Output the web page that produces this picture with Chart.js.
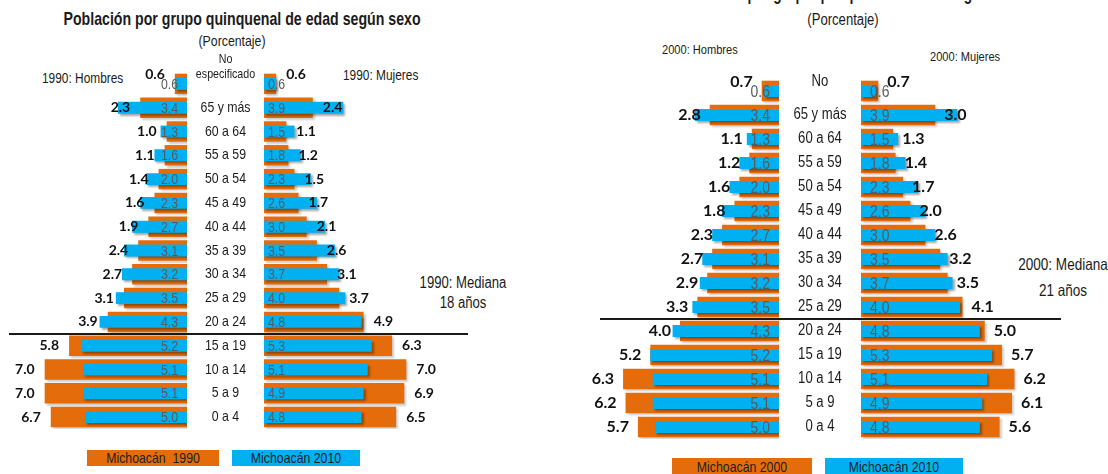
<!DOCTYPE html>
<html>
<head>
<meta charset="utf-8">
<script src="https://cdn.jsdelivr.net/npm/chart.js@4.4.1/dist/chart.umd.min.js"></script>
<style>
  body { margin: 0; width: 1108px; height: 474px; background: #fff; position: relative; overflow: hidden;
         font-family: "Liberation Sans", Arial, sans-serif; color: #1b1b1b; }
  canvas { position: absolute; }
  .t { position: absolute; white-space: pre; line-height: 1; }
  .c { transform: translate(-50%, -50%) scaleX(0.82); }
  .l { transform: translateY(-50%) scaleX(0.82); transform-origin: 0 50%; }
  .key { position: absolute; white-space: pre; color: #1e1e1e; }
  .key span { display: block; text-align: center; font-size: 15px; transform: scaleX(0.82); }
</style>
</head>
<body>

<div class="t" style="left:242px;top:18px;font-size:19px;font-weight:bold;transform:translate(-50%,-50%) scaleX(0.745)">Población por grupo quinquenal de edad según sexo</div>
<div class="t c" style="left:232px;top:40px;font-size:15px">(Porcentaje)</div>
<div class="t l" style="left:42px;top:78px;font-size:14.5px">1990: Hombres</div>
<div class="t l" style="left:343px;top:75px;font-size:14.5px">1990: Mujeres</div>
<div class="t c" style="left:463px;top:283px;font-size:16px">1990: Mediana</div>
<div class="t c" style="left:463px;top:303px;font-size:16px">18 años</div>

<div class="t" style="left:851px;top:-17px;font-size:20px;font-weight:bold;transform:translateX(-50%) scaleX(0.685)">Población por grupo quinquenal de edad según sexo</div>
<div class="t c" style="left:843px;top:20px;font-size:16px">(Porcentaje)</div>
<div class="t l" style="left:662px;top:50px;font-size:13.5px">2000: Hombres</div>
<div class="t l" style="left:930px;top:57px;font-size:13.5px">2000: Mujeres</div>
<div class="t c" style="left:1063px;top:264px;font-size:16.5px">2000: Mediana</div>
<div class="t c" style="left:1063px;top:290px;font-size:16.5px">21 años</div>

<canvas id="h1990" width="260" height="377" style="left:4px;top:52px"></canvas>
<canvas id="m1990" width="204" height="377" style="left:264px;top:52px"></canvas>
<canvas id="h2000" width="280" height="380" style="left:581px;top:59px"></canvas>
<canvas id="m2000" width="200" height="380" style="left:861px;top:59px"></canvas>

<div id="key1990a" class="key" style="left:87px;top:450px;width:132px;height:16px;line-height:16px"><span></span></div>
<div id="key1990b" class="key" style="left:232px;top:450px;width:128px;height:16px;line-height:16px"><span></span></div>
<div id="key2000a" class="key" style="left:672px;top:458px;width:140px;height:18px;line-height:18px"><span></span></div>
<div id="key2000b" class="key" style="left:825px;top:458px;width:138px;height:18px;line-height:18px"><span></span></div>

<script>
// age groups, top to bottom
const ageGroups = ['65 y más', '60 a 64', '55 a 59', '50 a 54', '45 a 49', '40 a 44', '35 a 39',
  '30 a 34', '25 a 29', '20 a 24', '15 a 19', '10 a 14', '5 a 9', '0 a 4'];
const labels1990 = [['No', 'especificado'], ...ageGroups];
const labels2000 = [['No'], ...ageGroups];

// percentages
const hombres1990 = [0.6, 2.3, 1.0, 1.1, 1.4, 1.6, 1.9, 2.4, 2.7, 3.1, 3.9, 5.8, 7.0, 7.0, 6.7];
const mujeres1990 = [0.6, 2.4, 1.1, 1.2, 1.5, 1.7, 2.1, 2.6, 3.1, 3.7, 4.9, 6.3, 7.0, 6.9, 6.5];
const hombres2000 = [0.7, 2.8, 1.1, 1.2, 1.6, 1.8, 2.3, 2.7, 2.9, 3.3, 4.0, 5.2, 6.3, 6.2, 5.7];
const mujeres2000 = [0.7, 3.0, 1.3, 1.4, 1.7, 2.0, 2.6, 3.2, 3.5, 4.1, 5.0, 5.7, 6.2, 6.1, 5.6];
const hombres2010 = [0.6, 3.4, 1.3, 1.6, 2.0, 2.3, 2.7, 3.1, 3.2, 3.5, 4.3, 5.2, 5.1, 5.1, 5.0];
const mujeres2010 = [0.6, 3.9, 1.5, 1.8, 2.3, 2.6, 3.0, 3.5, 3.7, 4.0, 4.8, 5.3, 5.1, 4.9, 4.8];

const series1990 = 'Michoacán  1990';
const series2000 = 'Michoacán 2000';
const series2010 = 'Michoacán 2010';

// median lines sit on top of these groups
const medianGroup1990 = '15 a 19';
const medianGroup2000 = '20 a 24';

const ORANGE = '#E46C0A';
const BLUE = '#00B0F0';
const SANS = '"Liberation Sans", Arial, sans-serif';

// Liberation Sans squeezed to look like Arial Narrow
function narrowText(ctx, s, x, y) {
  ctx.save();
  ctx.translate(x, y);
  ctx.scale(0.82, 1);
  ctx.fillText(s, 0, 0);
  ctx.restore();
}

const pyramidLabels = {
  id: 'pyramidLabels',
  beforeDatasetDraw(chart, args) {
    const ctx = chart.ctx;
    ctx.save();
    ctx.shadowColor = args.index === 1 ? 'rgba(0,0,0,0.35)' : 'rgba(0,0,0,0.2)';
    ctx.shadowOffsetX = 2;
    ctx.shadowOffsetY = 2;
    ctx.shadowBlur = 2;
  },
  afterDatasetDraw(chart) {
    chart.ctx.restore();
  },
  afterDatasetsDraw(chart, args, o) {
    const ctx = chart.ctx, x = chart.scales.x, y = chart.scales.y;
    const sign = o.men ? -1 : 1;
    const older = chart.data.datasets[0].data, newer = chart.data.datasets[1].data;
    ctx.save();
    ctx.textBaseline = 'middle';
    ctx.textAlign = o.men ? 'right' : 'left';

    // 2010: light, inside near the axis
    ctx.font = o.innerFont;
    ctx.fillStyle = '#5a5a5a';
    const x0 = x.getPixelForValue(0);
    newer.forEach((v, i) => narrowText(ctx, v.toFixed(1), x0 + sign * o.innerPad, y.getPixelForValue(i) + 1));

    // older census: bold, outside the orange bar
    ctx.font = o.outerFont;
    ctx.fillStyle = '#111';
    older.forEach((v, i) => {
      const lift = i === 0 ? o.lift : 0;
      ctx.fillText(v.toFixed(1), x.getPixelForValue(v) + sign * o.outerGap, y.getPixelForValue(i) - lift);
    });

    if (o.men) {
      // age group labels in the gap between both halves
      const cx = chart.chartArea.right + (chart.width - chart.chartArea.right) / 2;
      ctx.fillStyle = '#1b1b1b';
      ctx.textAlign = 'center';
      chart.data.labels.forEach((lab, i) => {
        const lines = Array.isArray(lab) ? lab : [lab];
        const yc = y.getPixelForValue(i) - (i === 0 ? o.lift : 0);
        ctx.font = lines.length > 1 ? '13px ' + SANS : o.centerFont;
        lines.forEach((s, j) => narrowText(ctx, s, cx, yc - (lines.length - 1 - j) * 15));
      });
    }

    // median line
    const k = chart.data.labels.indexOf(o.medianGroup);
    const yl = Math.round((y.getPixelForValue(k) + y.getPixelForValue(k - 1)) / 2);
    ctx.strokeStyle = '#1a1a1a';
    ctx.lineWidth = 2;
    ctx.beginPath();
    ctx.moveTo(o.lineFrom, yl);
    ctx.lineTo(chart.width, yl);
    ctx.stroke();
    ctx.restore();
  }
};

function side(id, labels, older, newer, names, o) {
  return new Chart(document.getElementById(id), {
    type: 'bar',
    data: {
      labels: labels,
      datasets: [
        { label: names[0], data: older, backgroundColor: ORANGE, order: 1, grouped: false,
          categoryPercentage: 1, barPercentage: 0.86 },
        { label: names[1], data: newer, backgroundColor: BLUE, order: 0, grouped: false,
          categoryPercentage: 1, barPercentage: 0.5 }
      ]
    },
    options: {
      indexAxis: 'y',
      responsive: false,
      animation: false,
      layout: { padding: { left: 0, top: 20, bottom: 0, right: o.padRight } },
      scales: {
        x: { display: false, reverse: o.men, min: 0, max: o.max },
        y: { display: false, ticks: { autoSkip: false } }
      },
      plugins: {
        legend: { display: false },
        tooltip: { enabled: false },
        pyramidLabels: o
      }
    },
    plugins: [pyramidLabels]
  });
}

const left = { max: 9, lift: 9, outerGap: 10, outerFont: 'bold 14px Lato', innerFont: '15px ' + SANS,
  centerFont: '15px ' + SANS, medianGroup: medianGroup1990 };
const right = { max: 8, lift: 9, outerGap: 9, outerFont: 'bold 16px Lato', innerFont: '17px ' + SANS,
  centerFont: '16px ' + SANS, medianGroup: medianGroup2000 };

side('h1990', labels1990, hombres1990, hombres2010, [series1990, series2010],
  { ...left, men: true, padRight: 77, innerPad: 9, lineFrom: 5 });
side('m1990', labels1990, mujeres1990, mujeres2010, [series1990, series2010],
  { ...left, men: false, padRight: 21, innerPad: 4, lineFrom: 0 });
side('h2000', labels2000, hombres2000, hombres2010, [series2000, series2010],
  { ...right, men: true, padRight: 82, innerPad: 9, lineFrom: 19 });
side('m2000', labels2000, mujeres2000, mujeres2010, [series2000, series2010],
  { ...right, men: false, padRight: 2, innerPad: 9, lineFrom: 0 });

// legend boxes
[['key1990a', series1990, ORANGE], ['key1990b', series2010, BLUE],
 ['key2000a', series2000, ORANGE], ['key2000b', series2010, BLUE]].forEach(([id, txt, col]) => {
  const el = document.getElementById(id);
  el.firstElementChild.textContent = txt;
  el.style.background = col;
});
</script>
</body>
</html>
